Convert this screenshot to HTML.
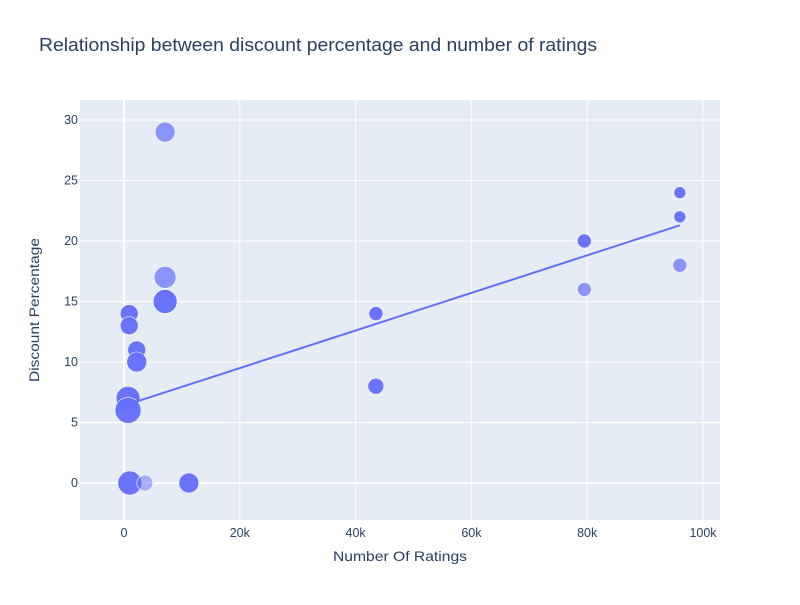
<!DOCTYPE html>
<html><head><meta charset="utf-8"><style>
body{margin:0;background:#fff;font-family:"Liberation Sans",sans-serif}
svg text{font-family:"Liberation Sans",sans-serif}
</style></head><body>
<svg id="chart" width="800" height="600">
<rect width="800" height="600" fill="#fff"/>
<rect x="80" y="100" width="640" height="420" fill="#e5ecf6"/>
<g id="grid"></g>
<g id="marks"></g>
<text x="39" y="51" font-size="18.5" fill="#2a3f5f" textLength="558" lengthAdjust="spacingAndGlyphs">Relationship between discount percentage and number of ratings</text>
<text x="400" y="561" font-size="14" fill="#2a3f5f" text-anchor="middle" textLength="134" lengthAdjust="spacingAndGlyphs">Number Of Ratings</text>
<text x="0" y="0" font-size="14" fill="#2a3f5f" text-anchor="middle" textLength="144" lengthAdjust="spacingAndGlyphs" transform="translate(39,310) rotate(-90)">Discount Percentage</text>
</svg>
<script>
const ratingsK = [7.1,7.1,7.1,0.9,0.9,2.2,2.2,0.7,0.7,1.0,3.6,11.2,43.5,43.5,79.5,79.5,96,96,96];
const discounts = [29,17,15,14,13,11,10,7,6,0,0,0,14,8,20,16,24,22,18];
const sizes = [10,11,12,9,9,9,10,12,13,12,8,10,7,8,7,7,6,6,7];
const opacities = [0.7,0.7,0.95,0.95,0.95,0.95,0.95,0.95,0.95,0.95,0.5,0.95,0.95,0.95,0.95,0.7,0.95,0.95,0.7];
const trendX = [0.7,96];
const trendY = [6.5,21.3];
const xTicks = [0,20,40,60,80,100];
const xTickLabels = ["0","20k","40k","60k","80k","100k"];
const yTicks = [0,5,10,15,20,25,30];
const NS="http://www.w3.org/2000/svg";
const xs = k => 124 + k*5.79;
const ys = v => 483 - v*12.1;
const grid=document.getElementById('grid'), marks=document.getElementById('marks');
function mk(tag,attrs,parent){const e=document.createElementNS(NS,tag);for(const k in attrs)e.setAttribute(k,attrs[k]);parent.appendChild(e);return e;}
xTicks.forEach((t,i)=>{
  const l=mk('line',{x1:xs(t),x2:xs(t),y1:100,y2:520,stroke:'#fff','stroke-width':t===0?2:1},grid);
  
  
  const tx=mk('text',{x:xs(t),y:537,'font-size':12.5,fill:'#2a3f5f','text-anchor':'middle'},grid);
  tx.textContent=xTickLabels[i];
  
  
});
yTicks.forEach(t=>{
  const l=mk('line',{x1:80,x2:720,y1:ys(t),y2:ys(t),stroke:'#fff','stroke-width':t===0?2:1},grid);
  
  
  const tx=mk('text',{x:78,y:ys(t)+4,'font-size':12.5,fill:'#2a3f5f','text-anchor':'end'},grid);
  tx.textContent=String(t);
  
  
});
ratingsK.forEach((k,i)=>{
  const c=mk('circle',{cx:xs(k),cy:ys(discounts[i]),r:sizes[i],fill:'#636efa','fill-opacity':opacities[i],stroke:'#fff','stroke-width':0.6},marks);
  
  
});
const tl=mk('line',{x1:xs(trendX[0]),y1:ys(trendY[0]),x2:xs(trendX[1]),y2:ys(trendY[1]),stroke:'#636efa','stroke-width':2},marks);


</script>
</body></html>
